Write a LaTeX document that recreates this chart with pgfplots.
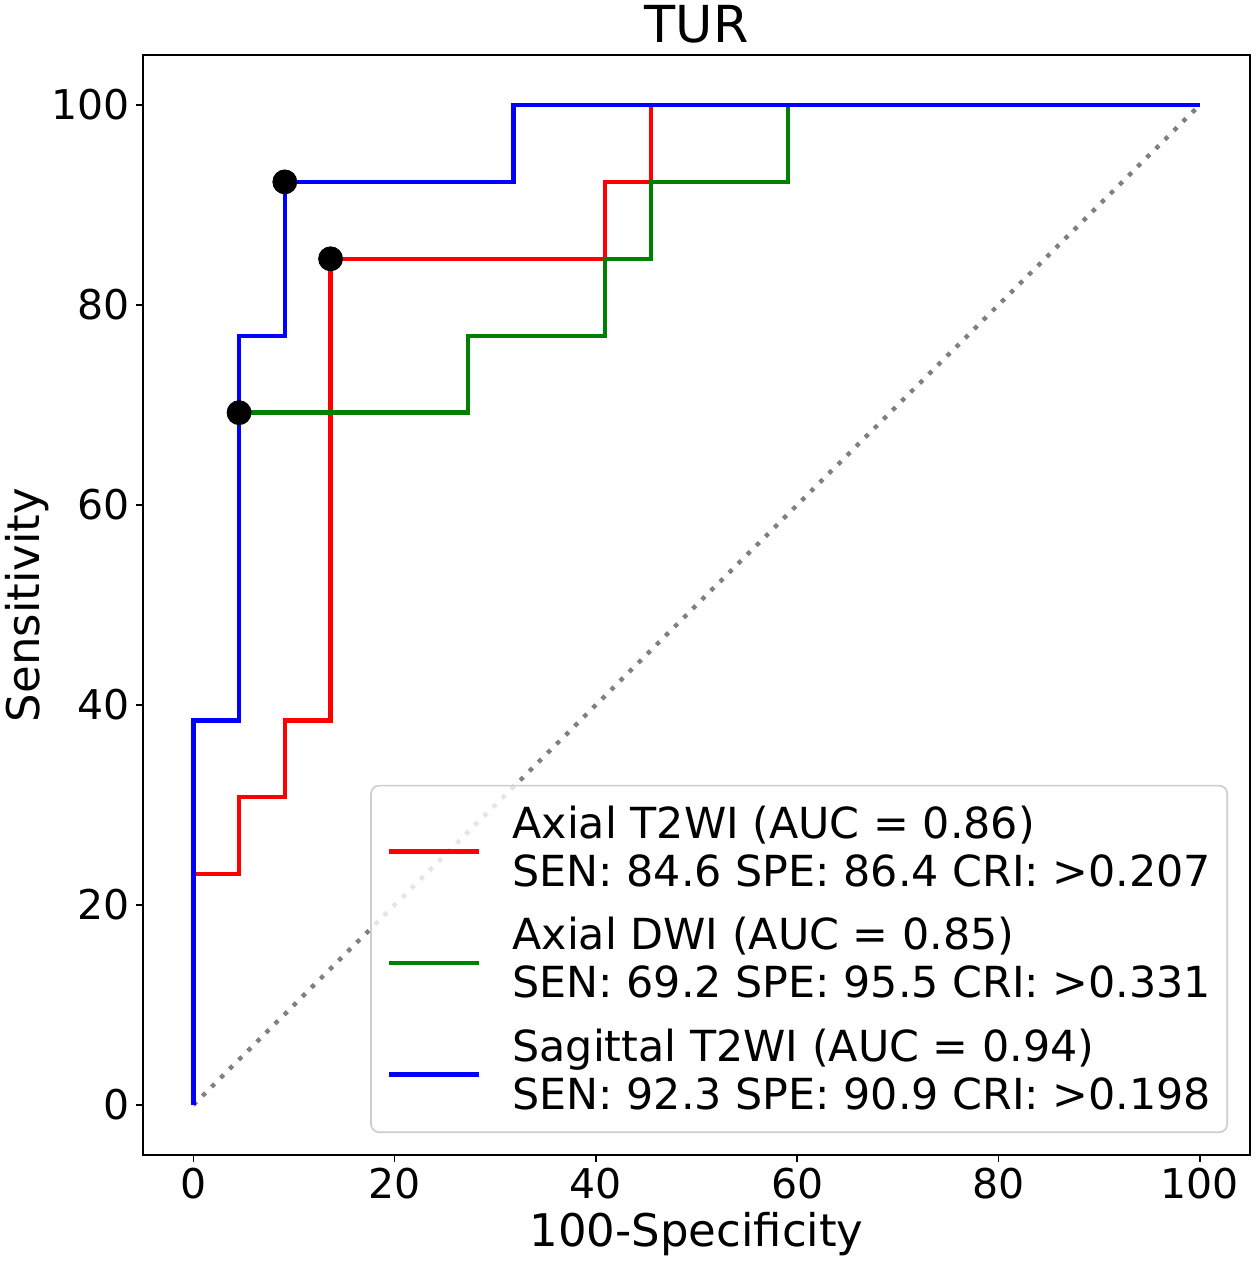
\documentclass[border=0pt]{standalone}
\usepackage{fontspec}
\setmainfont{DejaVu Sans}
\usepackage{pgfplots}
\pgfplotsset{compat=1.18}
\definecolor{mplgreen}{rgb}{0,0.5,0}
\begin{document}
\begin{tikzpicture}
\begin{axis}[
  at={(0,0)}, anchor=south west,
  scale only axis, width=553.5pt, height=550pt,
  xmin=-5, xmax=105, ymin=-5, ymax=105,
  xtick={0,20,40,60,80,100}, ytick={0,20,40,60,80,100},
  tick align=outside, major tick length=3.5pt,
  xtick pos=left, ytick pos=left,
  every tick/.style={black, line width=0.8pt},
  axis line style={line width=0.8pt},
  /pgf/number format/assume math mode=true,
  ticklabel style={font=\fontsize{20.5}{24}\selectfont, inner sep=0pt},
  xticklabel style={anchor=base, yshift=-18pt},
  yticklabel style={anchor=east, xshift=-3pt},
  every axis title shift=0pt,
  title={TUR},
  title style={at={(axis description cs:0.5,1.0109)}, anchor=base, inner sep=0pt, font=\fontsize{25.5}{30}\selectfont},
  xlabel={100-Specificity},
  xlabel style={at={(axis description cs:0.5,-0.08364)}, anchor=base, inner sep=0pt, font=\fontsize{22.5}{26}\selectfont},
  ylabel={Sensitivity},
  ylabel style={at={(axis description cs:-0.09305,0.5)}, anchor=base, inner sep=0pt, font=\fontsize{22.5}{26}\selectfont},
  legend cell align=left,
  legend style={
    at={(axis description cs:1,0)}, anchor=south east, xshift=-11pt, yshift=11pt,
    draw=black!20, line width=0.8pt, rounded corners=4pt,
    fill=white, fill opacity=0.8, text opacity=1, draw opacity=1,
    font=\fontsize{21.4}{24}\selectfont,
    inner xsep=8pt, inner ysep=10pt,
    row sep=14pt, column sep=15.5pt,
    nodes={inner sep=0pt, align=left},
  },
  legend image code/.code={\draw[#1, line width=2.2pt, rounded corners=0pt] (0pt,-2pt) -- (45pt,-2pt);},
]
\addplot[gray, line width=2.2pt, dash pattern=on 2.2pt off 4.2pt, forget plot] coordinates {(0,0) (100,100)};
\addplot[red, line width=2.2pt] coordinates {
(0,0) (0,23.08) (4.545,23.08) (4.545,30.77) (9.091,30.77) (9.091,38.46) (13.64,38.46) (13.64,84.62) (40.91,84.62) (40.91,92.31) (45.45,92.31) (45.45,100) (100,100)};
\addlegendentry{Axial T2WI (AUC = 0.86)\\SEN: 84.6 SPE: 86.4 CRI: >0.207}
\addplot[mplgreen, line width=2.2pt] coordinates {
(0,0) (0,38.46) (4.545,38.46) (4.545,69.23) (27.27,69.23) (27.27,76.92) (40.91,76.92) (40.91,84.62) (45.45,84.62) (45.45,92.31) (59.09,92.31) (59.09,100) (100,100)};
\addlegendentry{Axial DWI (AUC = 0.85)\\SEN: 69.2 SPE: 95.5 CRI: >0.331}
\addplot[blue, line width=2.2pt] coordinates {
(0,0) (0,38.46) (4.545,38.46) (4.545,76.92) (9.091,76.92) (9.091,92.31) (31.82,92.31) (31.82,100) (100,100)};
\addlegendentry{Sagittal T2WI (AUC = 0.94)\\SEN: 92.3 SPE: 90.9 CRI: >0.198}
\addplot[only marks, mark=*, mark size=6pt, black, forget plot] coordinates {(13.64,84.62) (4.545,69.23) (9.091,92.31)};
\end{axis}
\pgfresetboundingbox
\path[use as bounding box] (-71.5pt,-53pt) rectangle (556pt,577.5pt);
\end{tikzpicture}
\end{document}
